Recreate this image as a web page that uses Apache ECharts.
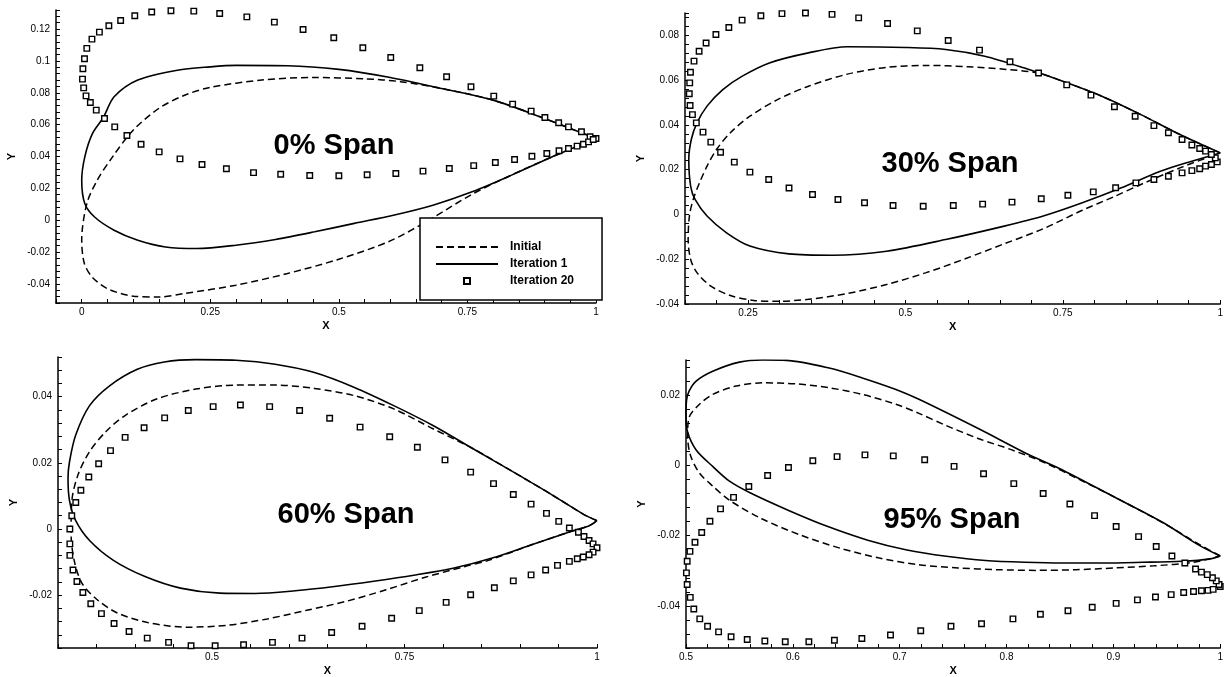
<!DOCTYPE html>
<html>
<head>
<meta charset="utf-8">
<script src="https://cdn.jsdelivr.net/npm/echarts@6/dist/echarts.min.js"></script>
<style>
html,body{margin:0;padding:0;background:#fff;}
#chart{width:1226px;height:677px;}
</style>
</head>
<body>
<div id="chart"></div>
<script>
// ---------- DATA ----------
const seriesNames = ['Initial', 'Iteration 1', 'Iteration 20'];
const spanLabels = ['0% Span', '30% Span', '60% Span', '95% Span'];

// 0% span
const p1Initial = [[1.0,0.0513],[0.95,0.0576],[0.9,0.0639],[0.8,0.0754],[0.7,0.0827],[0.62,0.087],[0.55,0.0888],[0.45,0.0896],[0.35,0.088],[0.25,0.0834],[0.2,0.0785],[0.15,0.0702],[0.1,0.0565],[0.06,0.0398],[0.03,0.025],[0.01,0.0105],[0.0,-0.0126],[0.005,-0.027],[0.02,-0.0356],[0.05,-0.043],[0.1,-0.0477],[0.15,-0.0482],[0.2,-0.046],[0.3,-0.0408],[0.4,-0.0335],[0.5,-0.0245],[0.6,-0.013],[0.68,0.001],[0.76,0.0165],[0.84,0.029],[0.912,0.0394],[1.0,0.0513]];
const p1Iter1 = [[1.0,0.0513],[0.95,0.0576],[0.9,0.0639],[0.8,0.0754],[0.7,0.0827],[0.6,0.0896],[0.5,0.0947],[0.4,0.097],[0.3,0.0972],[0.25,0.0963],[0.186,0.0942],[0.109,0.088],[0.063,0.0775],[0.042,0.0645],[0.021,0.0545],[0.006,0.0398],[0.0,0.025],[0.006,0.0105],[0.025,0.002],[0.063,-0.0063],[0.109,-0.0126],[0.163,-0.0168],[0.224,-0.0178],[0.3,-0.0157],[0.377,-0.0121],[0.453,-0.0073],[0.53,-0.002],[0.606,0.0031],[0.683,0.0094],[0.759,0.0178],[0.836,0.0283],[0.912,0.0394],[1.0,0.0513]];
const p1Iter20 = [[1.0,0.0513],[0.9885,0.0524],[0.9717,0.0555],[0.9465,0.0586],[0.9274,0.0612],[0.9006,0.0645],[0.8739,0.0685],[0.8379,0.0729],[0.8012,0.0779],[0.7569,0.0838],[0.7095,0.0901],[0.6575,0.0957],[0.6009,0.1022],[0.5466,0.1083],[0.4901,0.1146],[0.4304,0.1198],[0.3746,0.1244],[0.3211,0.1277],[0.2683,0.1298],[0.2179,0.1313],[0.1735,0.1315],[0.1361,0.1307],[0.1032,0.1284],[0.0757,0.1254],[0.0528,0.1221],[0.0344,0.1181],[0.0199,0.1137],[0.0099,0.1079],[0.0054,0.1014],[0.0023,0.0951],[0.0015,0.0886],[0.0038,0.0831],[0.0084,0.0781],[0.0168,0.0739],[0.0283,0.0691],[0.0443,0.0639],[0.0642,0.0586],[0.0879,0.0532],[0.1154,0.0477],[0.1506,0.0429],[0.1911,0.0385],[0.2339,0.035],[0.2813,0.0323],[0.3341,0.0299],[0.3869,0.0289],[0.4434,0.0281],[0.5,0.0279],[0.555,0.0285],[0.6108,0.0293],[0.6636,0.0308],[0.7148,0.0325],[0.7622,0.0343],[0.8043,0.0362],[0.8417,0.0381],[0.8754,0.0402],[0.9044,0.0419],[0.9281,0.0436],[0.9465,0.045],[0.9633,0.0465],[0.9755,0.0477],[0.9855,0.0492],[0.9946,0.0507]];

// 30% span
const p2Initial = [[1.0,0.0275],[0.936,0.0357],[0.874,0.0446],[0.812,0.0528],[0.75,0.0595],[0.71,0.0632],[0.66,0.0648],[0.6,0.066],[0.533,0.0666],[0.47,0.0657],[0.408,0.0627],[0.346,0.0573],[0.297,0.0513],[0.253,0.0439],[0.222,0.0365],[0.2,0.029],[0.185,0.0216],[0.173,0.0141],[0.163,0.0067],[0.157,-0.0007],[0.155,-0.0112],[0.159,-0.0201],[0.169,-0.026],[0.191,-0.032],[0.222,-0.0362],[0.259,-0.0384],[0.297,-0.0388],[0.346,-0.0379],[0.408,-0.0353],[0.47,-0.0313],[0.533,-0.026],[0.595,-0.0198],[0.657,-0.0131],[0.719,-0.0064],[0.781,0.0019],[0.831,0.0079],[0.874,0.0134],[0.936,0.0208],[1.0,0.0275]];
const p2Iter1 = [[1.0,0.0275],[0.936,0.0357],[0.874,0.0446],[0.812,0.0528],[0.75,0.0595],[0.688,0.0655],[0.626,0.0707],[0.564,0.0737],[0.5,0.0746],[0.408,0.0749],[0.346,0.0722],[0.284,0.0677],[0.241,0.0618],[0.21,0.0558],[0.185,0.0484],[0.169,0.0409],[0.16,0.0335],[0.156,0.0246],[0.159,0.0126],[0.166,0.0067],[0.185,-0.0007],[0.216,-0.0082],[0.253,-0.0141],[0.315,-0.0176],[0.384,-0.0182],[0.47,-0.0164],[0.564,-0.0112],[0.657,-0.0052],[0.719,-0.0007],[0.781,0.0052],[0.843,0.0119],[0.905,0.0193],[0.955,0.0238],[1.0,0.0275]];
const p2Iter20 = [[0.9953,0.0235],[0.9922,0.0253],[0.986,0.0268],[0.9767,0.0283],[0.9674,0.0295],[0.955,0.031],[0.9394,0.0335],[0.9177,0.0365],[0.8947,0.0397],[0.8649,0.0439],[0.832,0.0481],[0.7947,0.0533],[0.7562,0.0579],[0.7115,0.0632],[0.6661,0.0682],[0.6177,0.0734],[0.568,0.0777],[0.5189,0.082],[0.4717,0.0853],[0.4258,0.0878],[0.3835,0.0894],[0.3413,0.09],[0.304,0.0897],[0.2705,0.0888],[0.2407,0.0868],[0.2196,0.0835],[0.1991,0.0804],[0.1835,0.0766],[0.1724,0.0729],[0.1643,0.0685],[0.1587,0.0635],[0.1575,0.0588],[0.1568,0.0539],[0.1581,0.0487],[0.1618,0.0446],[0.168,0.0409],[0.1786,0.0368],[0.191,0.0323],[0.2065,0.0278],[0.2283,0.0234],[0.2531,0.0189],[0.2829,0.0156],[0.3152,0.0118],[0.3525,0.0089],[0.3929,0.0067],[0.4351,0.0052],[0.4804,0.004],[0.5283,0.0037],[0.5761,0.004],[0.6227,0.0046],[0.6693,0.0055],[0.7158,0.007],[0.7581,0.0086],[0.7984,0.0101],[0.8339,0.0119],[0.8661,0.0141],[0.8947,0.0156],[0.9177,0.0171],[0.9394,0.0186],[0.955,0.0196],[0.9674,0.0204],[0.9767,0.0216],[0.986,0.0223]];

// 60% span
const p3Initial = [[1.0,0.0025],[0.982,0.0045],[0.941,0.0104],[0.89,0.0174],[0.838,0.0244],[0.787,0.0303],[0.736,0.0363],[0.685,0.0403],[0.633,0.0425],[0.582,0.0435],[0.531,0.0435],[0.479,0.0423],[0.428,0.0393],[0.387,0.0343],[0.362,0.0294],[0.341,0.0234],[0.326,0.0164],[0.318,0.0085],[0.317,-0.0015],[0.321,-0.0095],[0.331,-0.0164],[0.351,-0.0214],[0.377,-0.0254],[0.418,-0.0284],[0.469,-0.0297],[0.521,-0.0291],[0.572,-0.0272],[0.623,-0.0246],[0.674,-0.0219],[0.726,-0.0184],[0.777,-0.0146],[0.828,-0.0114],[0.859,-0.0095],[0.915,-0.0048],[0.967,-0.0007],[0.99,0.001],[1.0,0.0025]];
const p3Iter1 = [[1.0,0.0025],[0.982,0.0045],[0.941,0.0104],[0.89,0.0174],[0.838,0.0244],[0.787,0.0313],[0.736,0.0373],[0.685,0.0428],[0.633,0.0473],[0.582,0.0498],[0.531,0.051],[0.479,0.0512],[0.438,0.0505],[0.403,0.0483],[0.367,0.0433],[0.341,0.0373],[0.323,0.0284],[0.315,0.0204],[0.313,0.0154],[0.315,0.0085],[0.323,0.0025],[0.341,-0.0035],[0.372,-0.0095],[0.413,-0.0144],[0.459,-0.0179],[0.51,-0.0194],[0.556,-0.0195],[0.608,-0.0187],[0.659,-0.0174],[0.71,-0.0158],[0.762,-0.014],[0.813,-0.0119],[0.864,-0.0088],[0.915,-0.0048],[0.967,-0.0007],[0.99,0.001],[1.0,0.0025]];
const p3Iter20 = [[0.9641,0.0003],[0.9759,-0.001],[0.9831,-0.0023],[0.9897,-0.0035],[0.9949,-0.0045],[1.0,-0.0057],[0.9949,-0.007],[0.9897,-0.0078],[0.9821,-0.0085],[0.9744,-0.009],[0.9641,-0.0098],[0.9487,-0.011],[0.9333,-0.0124],[0.9144,-0.0139],[0.8913,-0.0157],[0.8667,-0.0178],[0.8359,-0.0199],[0.8041,-0.0222],[0.7692,-0.0247],[0.7333,-0.027],[0.6949,-0.0294],[0.6554,-0.0313],[0.6169,-0.033],[0.5785,-0.0343],[0.541,-0.035],[0.5041,-0.0353],[0.4728,-0.0353],[0.4436,-0.0343],[0.4159,-0.033],[0.3923,-0.031],[0.3728,-0.0286],[0.3564,-0.0256],[0.3426,-0.0226],[0.3323,-0.0192],[0.3246,-0.0159],[0.3195,-0.0124],[0.3154,-0.008],[0.3154,-0.0045],[0.3154,0.0],[0.3179,0.004],[0.3231,0.008],[0.3297,0.0117],[0.34,0.0157],[0.3528,0.0197],[0.3682,0.0237],[0.3872,0.0277],[0.4118,0.0306],[0.4385,0.0336],[0.4692,0.0358],[0.5015,0.037],[0.5369,0.0375],[0.5749,0.037],[0.6138,0.0358],[0.6528,0.0335],[0.6923,0.0308],[0.7308,0.0279],[0.7667,0.0247],[0.8026,0.0209],[0.8359,0.0172],[0.8656,0.0137],[0.8913,0.0104],[0.9144,0.0075],[0.9344,0.0047],[0.9503,0.0023]];

// 95% span
const p4Initial = [[1.0,-0.0258],[0.982,-0.0228],[0.946,-0.0163],[0.899,-0.0087],[0.868,-0.004],[0.837,0.0006],[0.805,0.0044],[0.774,0.0076],[0.743,0.0114],[0.718,0.0148],[0.6965,0.0174],[0.665,0.0202],[0.634,0.0221],[0.603,0.0232],[0.572,0.0235],[0.547,0.0226],[0.525,0.0202],[0.5126,0.0174],[0.503,0.0137],[0.5015,0.0086],[0.504,0.003],[0.5126,-0.0022],[0.525,-0.0059],[0.5415,-0.0101],[0.5709,-0.0152],[0.6076,-0.0199],[0.6444,-0.0236],[0.6811,-0.0264],[0.7179,-0.0283],[0.7546,-0.0292],[0.7913,-0.0297],[0.8281,-0.0299],[0.8648,-0.0297],[0.9016,-0.0292],[0.9383,-0.0286],[0.975,-0.0276],[1.0,-0.0258]];
const p4Iter1 = [[1.0,-0.0258],[0.98,-0.0227],[0.946,-0.0162],[0.899,-0.0087],[0.849,-0.0008],[0.821,0.003],[0.774,0.0104],[0.718,0.0188],[0.6965,0.0216],[0.665,0.0249],[0.634,0.0277],[0.594,0.0299],[0.5715,0.03],[0.55,0.0294],[0.525,0.0268],[0.5095,0.024],[0.503,0.0212],[0.5005,0.0185],[0.5,0.0142],[0.5015,0.0095],[0.5095,0.0044],[0.525,-0.0003],[0.5407,-0.0045],[0.5599,-0.0078],[0.5966,-0.0129],[0.6334,-0.0175],[0.6701,-0.0213],[0.7068,-0.0241],[0.7436,-0.0259],[0.7803,-0.0271],[0.817,-0.0276],[0.8538,-0.0278],[0.8905,-0.0278],[0.9273,-0.0276],[0.964,-0.0273],[0.9897,-0.0267],[1.0,-0.0258]];
const p4Iter20 = [[1.0,-0.0345],[0.9989,-0.0339],[0.9963,-0.0329],[0.9927,-0.032],[0.9879,-0.0311],[0.9824,-0.0304],[0.9769,-0.0295],[0.9669,-0.0278],[0.9548,-0.0258],[0.9401,-0.0231],[0.9236,-0.0203],[0.9026,-0.0174],[0.8824,-0.0143],[0.8593,-0.011],[0.8343,-0.008],[0.8068,-0.0052],[0.7785,-0.0024],[0.7509,-0.0003],[0.7234,0.0016],[0.694,0.0027],[0.6675,0.003],[0.6414,0.0025],[0.6187,0.0013],[0.5959,-0.0006],[0.5764,-0.0029],[0.5588,-0.006],[0.5445,-0.0091],[0.5323,-0.0124],[0.5224,-0.0159],[0.5147,-0.0191],[0.5084,-0.0219],[0.5037,-0.0245],[0.5011,-0.0273],[0.5004,-0.0306],[0.5011,-0.0339],[0.504,-0.0376],[0.5073,-0.0409],[0.5129,-0.0437],[0.5202,-0.0458],[0.5305,-0.0474],[0.5422,-0.0488],[0.5573,-0.0496],[0.5738,-0.05],[0.5929,-0.0502],[0.615,-0.0502],[0.6389,-0.0498],[0.6646,-0.0493],[0.6914,-0.0483],[0.7197,-0.0471],[0.748,-0.0458],[0.7766,-0.0451],[0.806,-0.0437],[0.8317,-0.0424],[0.8575,-0.0414],[0.8802,-0.0404],[0.9026,-0.0393],[0.9225,-0.0383],[0.9394,-0.0375],[0.9541,-0.0368],[0.9658,-0.0362],[0.975,-0.0359],[0.9824,-0.0357],[0.9886,-0.0356],[0.9934,-0.0353]];

// axis ranges and tick labels
const xRanges = [[-0.05, 1], [0.15, 1], [0.3, 1], [0.5, 1]];
const yRanges = [[-0.052, 0.132], [-0.04, 0.09], [-0.036, 0.052], [-0.052, 0.03]];
const xTickSteps = [0.05, 0.05, 0.05, 0.02];
const xLabelSteps = [0.25, 0.25, 0.25, 0.1];
const yTickStep = 0.004;
const yLabelStep = 0.02;

const panelData = [
  [p1Initial, p1Iter1, p1Iter20],
  [p2Initial, p2Iter1, p2Iter20],
  [p3Initial, p3Iter1, p3Iter20],
  [p4Initial, p4Iter1, p4Iter20]
];

// ---------- LAYOUT ----------
const gridBoxes = [
  {left: 56, top: 10, width: 540, height: 293},
  {left: 685, top: 13, width: 538, height: 291},
  {left: 58, top: 357, width: 539, height: 295},
  {left: 686, top: 360, width: 535, height: 293}
];
const spanPos = [[334, 146], [950, 164], [346, 515], [952, 520]];

const FONT = '"Liberation Sans", Arial, Helvetica, sans-serif';

function isMult(v, step) {
  const q = v / step;
  return Math.abs(q - Math.round(q)) < 1e-6;
}
function fmt(v) { return String(+v.toFixed(4)); }

const grid = gridBoxes.map(g => Object.assign({containLabel: false}, g));

function axisCommon() {
  return {
    axisLine: {show: true, onZero: false, lineStyle: {color: '#000', width: 1.5}},
    axisTick: {show: true, inside: true, length: 4, lineStyle: {color: '#000', width: 1}},
    splitLine: {show: false},
    minorTick: {show: false}
  };
}

const xAxis = xRanges.map((r, i) => Object.assign(axisCommon(), {
  type: 'value', gridIndex: i, min: r[0], max: r[1], interval: xTickSteps[i],
  name: 'X', nameLocation: 'middle', nameGap: 17,
  nameTextStyle: {fontFamily: FONT, fontWeight: 'bold', fontSize: 11, color: '#000'},
  axisLabel: {
    color: '#000', fontFamily: FONT, fontSize: 10, margin: 4, showMinLabel: true, showMaxLabel: true,
    formatter: v => isMult(v, xLabelSteps[i]) ? fmt(v) : ''
  }
}));

const yAxis = yRanges.map((r, i) => Object.assign(axisCommon(), {
  type: 'value', gridIndex: i, min: r[0], max: r[1], interval: yTickStep,
  name: 'Y', nameLocation: 'middle', nameGap: 39,
  nameTextStyle: {fontFamily: FONT, fontWeight: 'bold', fontSize: 11, color: '#000'},
  axisLabel: {
    color: '#000', fontFamily: FONT, fontSize: 10, margin: 6,
    formatter: v => isMult(v, yLabelStep) ? fmt(v) : ''
  }
}));

const series = [];
panelData.forEach((sets, i) => {
  series.push({
    name: seriesNames[0], type: 'line', xAxisIndex: i, yAxisIndex: i,
    data: sets[0], showSymbol: false, symbol: 'none', smooth: 0.3,
    lineStyle: {color: '#000', width: 1.5, type: [7, 4]}, itemStyle: {color: '#000'}, z: 2
  });
  series.push({
    name: seriesNames[1], type: 'line', xAxisIndex: i, yAxisIndex: i,
    data: sets[1], showSymbol: false, symbol: 'none', smooth: 0.3,
    lineStyle: {color: '#000', width: 1.6, type: 'solid'}, itemStyle: {color: '#000'}, z: 3
  });
  series.push({
    name: seriesNames[2], type: 'scatter', xAxisIndex: i, yAxisIndex: i,
    data: sets[2], symbol: 'rect', symbolSize: 5.5,
    itemStyle: {color: '#fff', borderColor: '#000', borderWidth: 1.4, opacity: 1}, z: 4
  });
});

const graphic = spanLabels.map((t, i) => ({
  type: 'text', x: spanPos[i][0], y: spanPos[i][1], z: 10,
  style: {
    text: t, fill: '#000', font: 'bold 29px ' + FONT,
    textAlign: 'center', textVerticalAlign: 'middle'
  }
}));

const option = {
  animation: false,
  backgroundColor: '#fff',
  grid: grid,
  xAxis: xAxis,
  yAxis: yAxis,
  legend: {
    data: [
      {name: seriesNames[0], itemStyle: {opacity: 0}},
      {name: seriesNames[1], itemStyle: {opacity: 0}},
      {name: seriesNames[2], icon: 'path://M0,0h6v6h-6z'}
    ],
    orient: 'vertical',
    left: 420, top: 218,
    padding: [22, 28, 12, 15],
    itemWidth: 62, itemHeight: 6, itemGap: 3,
    symbolKeepAspect: true,
    selectedMode: false,
    backgroundColor: '#fff',
    borderColor: '#000', borderWidth: 1.5, borderRadius: 0,
    textStyle: {fontFamily: FONT, fontWeight: 'bold', fontSize: 12, color: '#000', lineHeight: 14, padding: [0, 0, 0, 7]},
    z: 20
  },
  graphic: graphic,
  series: series
};

const chart = echarts.init(document.getElementById('chart'), null, {renderer: 'canvas'});
chart.setOption(option);
</script>
</body>
</html>
